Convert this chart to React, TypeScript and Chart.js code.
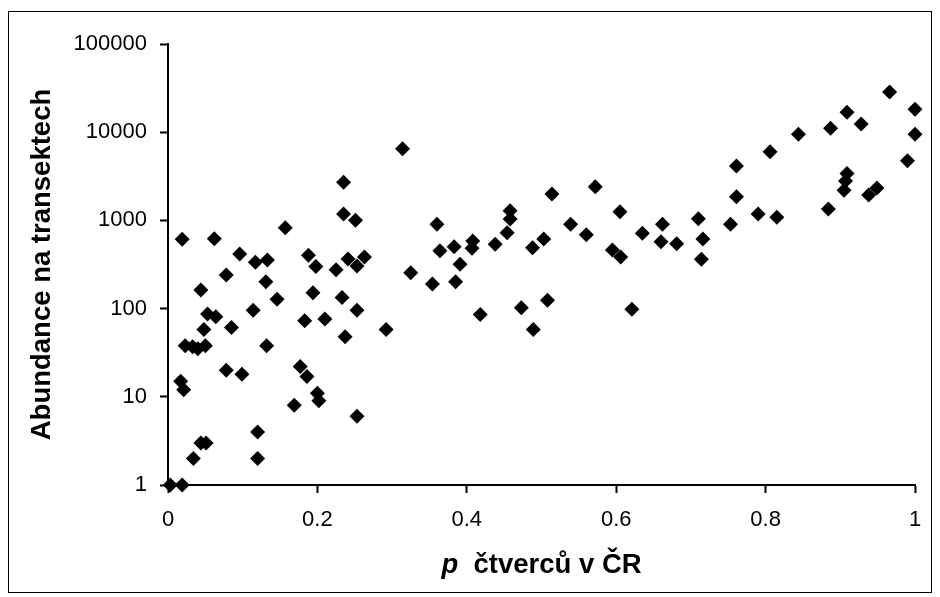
import React, { useEffect, useRef } from "react";
import { Chart, registerables } from "chart.js";

Chart.register(...registerables);

// share of squares in the Czech Republic (x) and abundance on transects (y)
const pValues = [
  0.003, 0.019, 0.017, 0.021, 0.019, 0.062, 0.023, 0.033, 0.040, 0.050,
  0.048, 0.044, 0.053, 0.064, 0.034, 0.044, 0.051, 0.078, 0.085, 0.078,
  0.099, 0.096, 0.114, 0.117, 0.120, 0.120, 0.131, 0.132, 0.133, 0.146,
  0.157, 0.169, 0.177, 0.183, 0.186, 0.188, 0.194, 0.198, 0.200, 0.202,
  0.210, 0.225, 0.233, 0.235, 0.235, 0.237, 0.241, 0.251, 0.253, 0.253,
  0.253, 0.263, 0.292, 0.314, 0.325, 0.354, 0.360, 0.364, 0.383, 0.385,
  0.391, 0.408, 0.407, 0.418, 0.438, 0.454, 0.458, 0.458, 0.473, 0.488,
  0.489, 0.503, 0.508, 0.514, 0.539, 0.560, 0.572, 0.595, 0.606, 0.605,
  0.621, 0.635, 0.660, 0.662, 0.681, 0.710, 0.714, 0.716, 0.753, 0.761,
  0.761, 0.790, 0.806, 0.815, 0.844, 0.884, 0.887, 0.909, 0.907, 0.905,
  0.909, 0.928, 0.938, 0.949, 0.966, 0.990, 1.0, 1.0,
];
const abundanceValues = [
  1, 1, 15, 12, 610, 620, 38, 37, 35, 38,
  58, 163, 87, 81, 2, 3, 3, 240, 61, 20,
  18, 416, 96, 335, 4, 2, 202, 38, 356, 128,
  826, 8, 22, 73, 17, 402, 151, 300, 11, 9,
  76, 276, 134, 2700, 1180, 48, 365, 1003, 305, 96,
  6, 385, 58, 6500, 255, 190, 903, 453, 504, 202,
  318, 584, 483, 86, 536, 726, 1289, 1037, 102, 491,
  58, 615, 124, 1991, 903, 689, 2410, 462, 385, 1256,
  98, 714, 574, 903, 545, 1045, 362, 615, 903, 4140,
  1858, 1182, 6010, 1084, 9470, 1346, 11070, 3400, 2800, 2200,
  16800, 12390, 1940, 2330, 28560, 4750, 18200, 9470,
];

const yTickValues = [1, 10, 100, 1000, 10000, 100000];
const xTickLabels = ["0", "0.2", "0.4", "0.6", "0.8", "1"];
const yTitle = "Abundance na transektech";
const xTitleItalic = "p";
const xTitleRest = "  čtverců v ČR";

const FONT = '"Liberation Sans", Arial, sans-serif';
const W = 924;
const H = 589;
const TITLE_SIZE = 27.5;

const framePlugin = {
  id: "frameAndTitles",
  afterDraw(chart: any) {
    const ctx = chart.ctx;
    const { left, right, top, bottom } = chart.chartArea;
    ctx.save();
    ctx.strokeStyle = "#000";
    ctx.lineWidth = 1;
    ctx.strokeRect(0.5, 3.5, chart.width - 1, chart.height - 8);

    ctx.fillStyle = "#000";
    ctx.textBaseline = "alphabetic";
    // x title
    ctx.font = `italic bold ${TITLE_SIZE}px ${FONT}`;
    const w1 = ctx.measureText(xTitleItalic).width;
    ctx.font = `bold ${TITLE_SIZE}px ${FONT}`;
    const w2 = ctx.measureText(xTitleRest).width;
    const cx = (left + right) / 2;
    const x0 = cx - (w1 + w2) / 2;
    const by = 565;
    ctx.font = `italic bold ${TITLE_SIZE}px ${FONT}`;
    ctx.textAlign = "left";
    ctx.fillText(xTitleItalic, x0, by);
    ctx.font = `bold ${TITLE_SIZE}px ${FONT}`;
    ctx.fillText(xTitleRest, x0 + w1, by);

    // y title
    ctx.translate(34, (top + bottom) / 2);
    ctx.rotate(-Math.PI / 2);
    ctx.textAlign = "center";
    ctx.textBaseline = "middle";
    ctx.font = `bold ${TITLE_SIZE}px ${FONT}`;
    ctx.fillText(yTitle, 0, 0);
    ctx.restore();
  },
};

export default function App() {
  const ref = useRef<HTMLCanvasElement>(null);
  useEffect(() => {
    if (!ref.current) return;
    const data = pValues.map((x, i) => ({ x, y: abundanceValues[i] }));
    const chart = new Chart(ref.current, {
      type: "scatter",
      data: {
        datasets: [
          {
            data,
            pointStyle: "rectRot",
            pointRadius: 7.5,
            pointBackgroundColor: "#000",
            pointBorderColor: "#000",
            pointBorderWidth: 0,
            clip: false as any,
          },
        ],
      },
      options: {
        responsive: false,
        animation: false,
        devicePixelRatio: 1,
        layout: { padding: { top: 36, right: 17, left: 0, bottom: 0 } },
        plugins: { legend: { display: false }, tooltip: { enabled: false } },
        scales: {
          x: {
            type: "linear",
            min: 0,
            max: 1,
            afterFit(scale: any) {
              scale.height = 112;
              scale.paddingLeft = 0;
              scale.paddingRight = 0;
            },
            afterBuildTicks(scale: any) {
              scale.ticks = [0, 0.2, 0.4, 0.6, 0.8, 1].map((v) => ({ value: v }));
            },
            ticks: {
              color: "#000",
              font: { family: FONT, size: 22 },
              padding: 14,
              maxRotation: 0,
              callback: (_v: any, i: number) => xTickLabels[i],
            },
            grid: {
              drawOnChartArea: false,
              drawTicks: true,
              tickLength: 8,
              tickColor: "#000",
              tickWidth: 2,
            },
            border: { display: true, color: "#000", width: 2 },
            title: { display: false },
          },
          y: {
            type: "logarithmic",
            min: 1,
            max: 100000,
            afterFit(scale: any) {
              scale.width = 160;
              scale.paddingTop = 0;
              scale.paddingBottom = 0;
            },
            afterBuildTicks(scale: any) {
              scale.ticks = yTickValues.map((v) => ({ value: v }));
            },
            ticks: {
              color: "#000",
              font: { family: FONT, size: 22 },
              padding: 13,
              callback: (v: any) => String(v),
            },
            grid: {
              drawOnChartArea: false,
              drawTicks: true,
              tickLength: 8,
              tickColor: "#000",
              tickWidth: 2,
            },
            border: { display: true, color: "#000", width: 2 },
            title: { display: false },
          },
        },
      },
      plugins: [framePlugin],
    });
    return () => chart.destroy();
  }, []);
  return <canvas ref={ref} width={W} height={H} style={{ display: "block" }} />;
}
